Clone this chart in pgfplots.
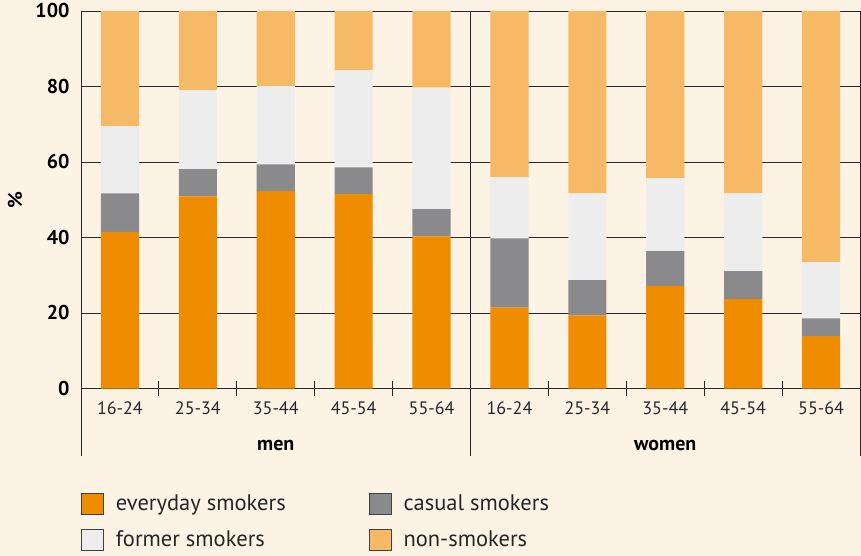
\documentclass[border=0pt]{standalone}
\usepackage{fontspec}
\setmainfont{PT Sans}
\usepackage{pgfplots}
\pgfplotsset{compat=1.18}
\usepackage{pgfplotstable}
\definecolor{bg}{RGB}{253,243,229}
\definecolor{every}{RGB}{240,140,0}
\definecolor{casual}{RGB}{138,138,140}
\definecolor{former}{RGB}{237,237,237}
\definecolor{nonsm}{RGB}{246,186,102}
\definecolor{axcol}{RGB}{40,40,40}

\pgfplotstableread{
x every casual former non
0 41.5 10.2 17.8 30.5
1 50.9 7.2 20.9 21.0
2 52.3 7.1 20.7 19.9
3 51.5 7.1 25.7 15.7
4 40.3 7.2 32.2 20.3
5 21.4 18.4 16.2 44.0
6 19.4 9.3 23.0 48.3
7 27.2 9.2 19.3 44.3
8 23.7 7.4 20.6 48.3
9 13.9 4.7 14.9 66.5
}\data

\begin{document}
\begin{tikzpicture}
\fill[bg] (-81pt,-167.5pt) rectangle (780pt,388.5pt);
\begin{axis}[
  at={(0,0)}, anchor=south west,
  scale only axis, width=779pt, height=377.5pt,
  xmin=-0.5, xmax=9.5, ymin=0, ymax=100,
  ybar stacked, bar width=0.49,
  clip=false,
  axis line style={line width=0.9pt, color=axcol},
  tick pos=left,
  major tick length=0pt,
  ytick={0,20,...,100},
  ymajorgrids, grid style={line width=0.9pt, color=axcol},
  xtick={0,...,9},
  xticklabels={16-24,25-34,35-44,45-54,55-64,16-24,25-34,35-44,45-54,55-64},
  extra x ticks={0.5,1.5,2.5,3.5,5.5,6.5,7.5,8.5},
  extra x tick labels={},
  extra x tick style={major tick length=15pt, tick align=center, tick style={line width=0.9pt, color=axcol}},
  /pgf/number format/assume math mode=true,
  xticklabel style={font=\fontsize{18}{22}\selectfont, text=black!85, anchor=base, yshift=-25.5pt},
  yticklabel style={font=\fontsize{20}{24}\selectfont\bfseries, anchor=east, xshift=-8pt},
  ylabel={\%},
  every axis y label/.style={at={(axis description cs:-0.0847,0.5)}, anchor=center, rotate=90, font=\fontsize{20}{24}\selectfont\bfseries},
  legend style={at={(axis description cs:0,0)}, anchor=north west, yshift=-104pt, draw=none, fill=none, inner sep=0pt,
    legend columns=2, font=\fontsize{22.5}{26}\selectfont, text=black!85, row sep=14pt,
    /tikz/every odd column/.append style={column sep=10pt},
    /tikz/every even column/.append style={column sep=81pt}},
  legend cell align=left,
  legend image code/.code={\draw[#1, draw=black!75, line width=0.8pt] (0pt,-10.5pt) rectangle (22pt,10.5pt);},
]
\addplot[fill=every, draw=none] table[x=x, y=every] {\data};
\addplot[fill=casual, draw=none] table[x=x, y=casual] {\data};
\addplot[fill=former, draw=none] table[x=x, y=former] {\data};
\addplot[fill=nonsm, draw=none] table[x=x, y=non] {\data};
\legend{everyday smokers, casual smokers, former smokers, non-smokers}
\draw[line width=0.9pt, color=axcol] (axis cs:4.5,100) -- (axis cs:4.5,0) -- ++(0pt,-67.5pt);
\draw[line width=0.9pt, color=axcol] (axis cs:-0.5,0) -- ++(0pt,-67.5pt);
\draw[line width=0.9pt, color=axcol] (axis cs:9.5,0) -- ++(0pt,-67.5pt);
\node[font=\fontsize{20}{24}\selectfont\bfseries, yshift=-56.5pt] at (axis cs:2,0) {men};
\node[font=\fontsize{20}{24}\selectfont\bfseries, yshift=-56.5pt] at (axis cs:7,0) {women};
\end{axis}
\pgfresetboundingbox
\useasboundingbox (-81pt,-167.5pt) rectangle (780pt,388.5pt);
\end{tikzpicture}
\end{document}
